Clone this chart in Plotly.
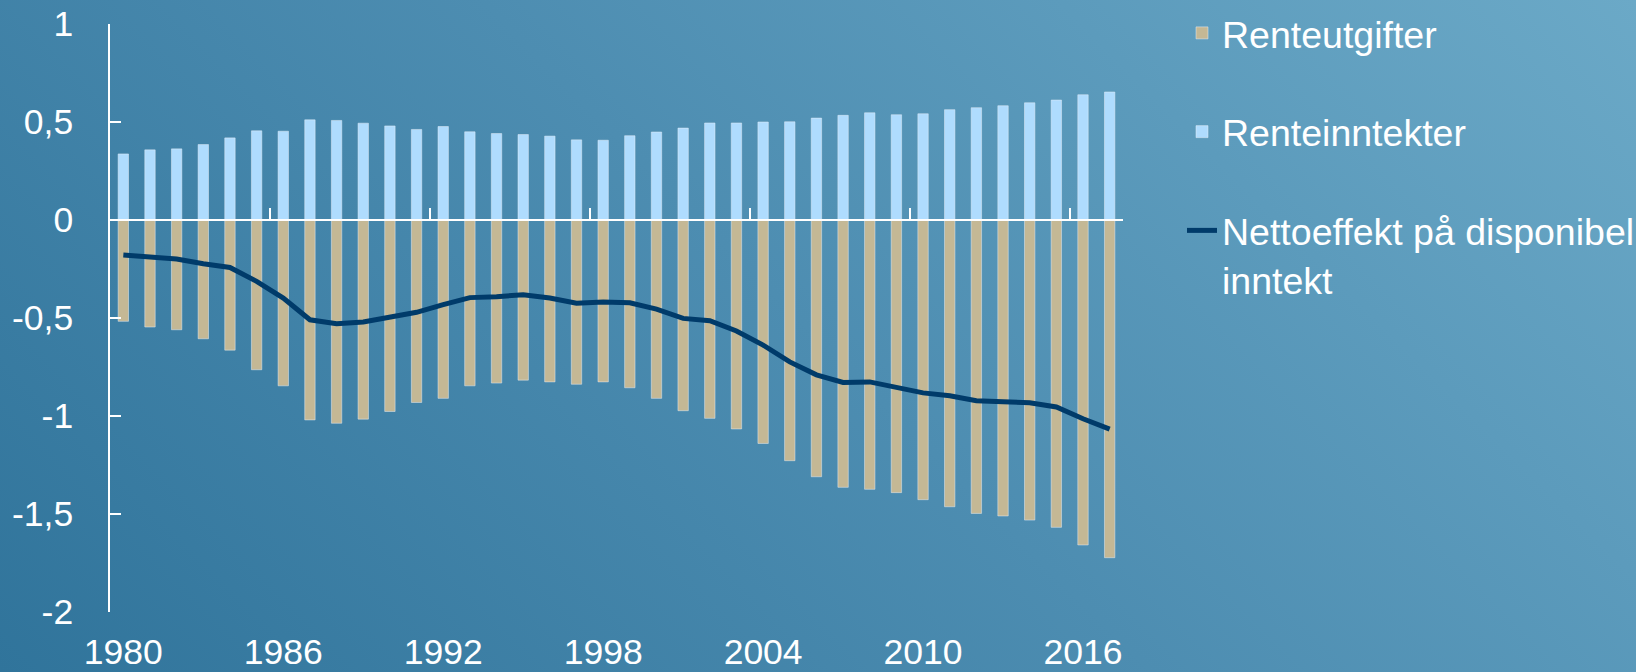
import base64
import plotly.graph_objects as go

# ---------------- data ----------------
years = [1980, 1981, 1982, 1983, 1984, 1985, 1986, 1987, 1988, 1989,
         1990, 1991, 1992, 1993, 1994, 1995, 1996, 1997, 1998, 1999,
         2000, 2001, 2002, 2003, 2004, 2005, 2006, 2007, 2008, 2009,
         2010, 2011, 2012, 2013, 2014, 2015, 2016, 2017]

renteutgifter = [-0.517, -0.546, -0.560, -0.606, -0.664, -0.764, -0.846, -1.020, -1.037, -1.016,
                 -0.977, -0.931, -0.910, -0.846, -0.832, -0.817, -0.826, -0.838, -0.826, -0.856,
                 -0.910, -0.973, -1.012, -1.066, -1.140, -1.228, -1.310, -1.364, -1.374, -1.391,
                 -1.427, -1.463, -1.497, -1.510, -1.531, -1.568, -1.658, -1.723]

renteinntekter = [0.337, 0.358, 0.363, 0.385, 0.419, 0.455, 0.453, 0.511, 0.508, 0.494,
                  0.480, 0.462, 0.477, 0.450, 0.441, 0.436, 0.428, 0.409, 0.407, 0.430,
                  0.449, 0.469, 0.495, 0.495, 0.500, 0.501, 0.520, 0.534, 0.547, 0.537,
                  0.542, 0.563, 0.573, 0.583, 0.598, 0.612, 0.639, 0.653]

nettoeffekt = [-0.179, -0.187, -0.199, -0.223, -0.242, -0.313, -0.398, -0.509, -0.529, -0.520,
               -0.495, -0.471, -0.432, -0.396, -0.391, -0.381, -0.398, -0.425, -0.418, -0.422,
               -0.455, -0.502, -0.514, -0.566, -0.638, -0.724, -0.790, -0.829, -0.826, -0.853,
               -0.882, -0.897, -0.922, -0.927, -0.932, -0.954, -1.014, -1.067]

x_tick_vals = [1980, 1986, 1992, 1998, 2004, 2010, 2016]
x_tick_text = ["1980", "1986", "1992", "1998", "2004", "2010", "2016"]
x_tick_marks = [1985.5, 1991.5, 1997.5, 2003.5, 2009.5, 2015.5]
y_tick_vals = [1, 0.5, 0, -0.5, -1, -1.5, -2]
y_tick_text = ["1", "0,5", "0", "-0,5", "-1", "-1,5", "-2"]

names = ["Renteutgifter", "Renteinntekter", "Nettoeffekt på disponibel<br>inntekt"]

# ---------------- styling ----------------
W, H = 1636, 672
ML, MR, MT, MB = 110, 513, 24, 60
PW, PH = W - ML - MR, H - MT - MB
FONT = "Liberation Sans, Arial, sans-serif"
TAN = "#c4b895"
LIGHTBLUE = "#afdcfe"
NAVY = "#003b6a"

svg = (
    '<svg xmlns="http://www.w3.org/2000/svg" width="1636" height="672" '
    'viewBox="0 0 1636 672" preserveAspectRatio="none">'
    '<defs><linearGradient id="g" gradientUnits="userSpaceOnUse" '
    'x1="0" y1="672" x2="1154" y2="-482">'
    '<stop offset="0" stop-color="#30749b"/>'
    '<stop offset="0.5" stop-color="#4d8db1"/>'
    '<stop offset="1" stop-color="#6ba9c7"/>'
    '</linearGradient></defs>'
    '<rect x="0" y="0" width="1636" height="672" fill="url(#g)"/></svg>'
)
bg_src = "data:image/svg+xml;base64," + base64.b64encode(svg.encode()).decode()

fig = go.Figure()
fig.add_trace(go.Bar(x=years, y=renteutgifter, name=names[0], marker_color=TAN,
                     width=0.39, legendgroup="a"))
fig.add_trace(go.Bar(x=years, y=renteinntekter, name=names[1], marker_color=LIGHTBLUE,
                     width=0.39, legendgroup="b"))
fig.add_trace(go.Scatter(x=years, y=nettoeffekt, name=names[2], mode="lines",
                         line=dict(color=NAVY, width=5), xaxis="x2", legendgroup="c"))

fig.update_layout(
    width=W, height=H,
    margin=dict(l=ML, r=MR, t=MT, b=MB, pad=0, autoexpand=False),
    paper_bgcolor="#4d8db1",
    plot_bgcolor="rgba(0,0,0,0)",
    barmode="relative",
    font=dict(family=FONT, color="white", size=35),
    images=[dict(source=bg_src, xref="paper", yref="paper",
                 x=-ML / PW, y=1 + MT / PH, sizex=W / PW, sizey=H / PH,
                 xanchor="left", yanchor="top", sizing="stretch", layer="below")],
    xaxis=dict(range=[1979.5, 2017.5], tickmode="array", tickvals=x_tick_vals,
               ticktext=x_tick_text, showline=False, ticks="", showgrid=False,
               zeroline=False, tickfont=dict(size=35.5, color="white", family=FONT),
               ticklabelstandoff=15, automargin=False),
    xaxis2=dict(range=[1979.5, 2017.5], overlaying="x", anchor="free", position=2 / 3,
                side="bottom", showline=True, linecolor="white", linewidth=2,
                ticks="inside", ticklen=11, tickwidth=1.5, tickcolor="white",
                tickmode="array", tickvals=x_tick_marks, showticklabels=False,
                showgrid=False, zeroline=False),
    yaxis=dict(range=[-2, 1], tickmode="array", tickvals=y_tick_vals, ticktext=y_tick_text,
               showline=True, linecolor="white", linewidth=1.5, ticks="inside",
               ticklen=11, tickwidth=1.5, tickcolor="white", showgrid=False,
               zeroline=False, tickfont=dict(size=35.5, color="white", family=FONT),
               ticklabelstandoff=28, automargin=False),
    legend=dict(x=(1182 - ML) / PW, y=1 + 22 / PH, xanchor="left", yanchor="top",
                bgcolor="rgba(0,0,0,0)", borderwidth=0,
                font=dict(size=37.5, color="white", family=FONT),
                traceorder="grouped", tracegroupgap=47, valign="top"),
    showlegend=True,
)

fig.write_html("out.html", config={"displayModeBar": False},
               post_script="document.body.style.margin='0';document.body.style.overflow='hidden';")
